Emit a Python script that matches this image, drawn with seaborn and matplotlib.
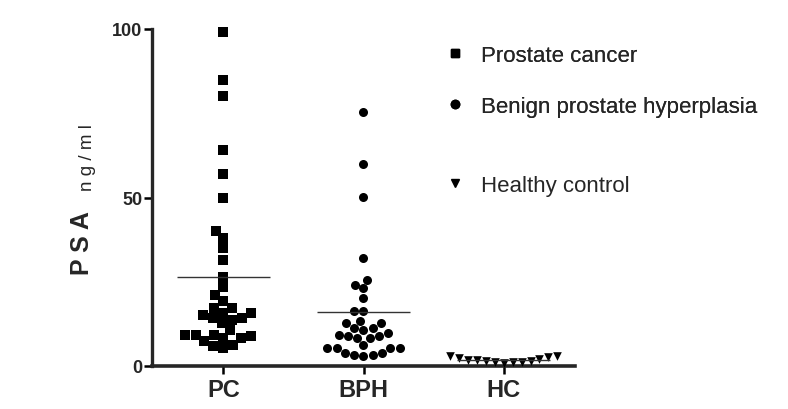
import matplotlib
matplotlib.use("Agg")
from matplotlib import pyplot as plt
from matplotlib.lines import Line2D
import seaborn as sns
import pandas as pd
import numpy as np

# values (PSA, ng/ml)
groups = ["PC", "BPH", "HC"]
labels = ["Prostate cancer", "Benign prostate hyperplasia", "Healthy control"]
markers = ["s", "o", "v"]
pc = [99, 85, 80, 64, 57, 50, 40, 38, 35, 31.5, 26.3, 23.3, 21, 19.2, 17.2, 17.2,
      15.7, 15.7, 15.2, 13.7, 14.2, 14.2, 12.7, 9.3, 8.3, 9.3, 9.3, 8.9, 10.7,
      8.3, 6.3, 5.3, 7.4, 6.0]
bph = [75.4, 60, 50.2, 32, 25.6, 24.1, 23.1, 20.2, 16.2, 16.2, 12.7, 11.2, 13.3,
       10.8, 11.2, 12.7, 9.3, 8.3, 8.3, 5.3, 5.3, 6.3, 5.3, 5.3, 3.8, 3.3, 3.0,
       3.8, 3.3, 8.9, 8.9, 9.8]
hc = [1.3, 2.9, 1.6, 1.0, 2.2, 1.9, 1.1, 2.5, 1.4, 3.1, 1.2, 2.6, 1.8]

sns.set_theme(style="ticks")
plt.rcParams["font.family"] = ["Liberation Sans", "DejaVu Sans"]

fig = plt.figure(figsize=(7.88, 4.10), dpi=100)
ax = fig.add_axes([152 / 788, 1 - 367 / 410, 423 / 788, 337 / 410])

sizes = [7.2, 6.5, 6.2]
for g, vals, m, s in zip(groups, [pc, bph, hc], markers, sizes):
    df = pd.DataFrame({"group": g, "psa": vals})
    sns.swarmplot(data=df, x="group", y="psa", order=groups, marker=m,
                  color="black", size=s, linewidth=0, ax=ax, clip_on=False,
                  warn_thresh=1)
    i = groups.index(g)
    ax.hlines(np.mean(vals), i - 0.33, i + 0.33, color="#333333", lw=1, zorder=5)

ax.set_xlim(-0.51, 2.51)
ax.set_ylim(0, 100)
ax.set_yticks([0, 50, 100])
ax.set_xlabel("")
ax.set_ylabel("")
sns.despine(ax=ax)
ax.spines["left"].set_linewidth(2.4)
ax.spines["bottom"].set_linewidth(2.6)
ax.tick_params(axis="both", width=1.8, length=6, color="black")
ax.tick_params(axis="y", labelsize=13, pad=1)
ax.tick_params(axis="x", labelsize=17, pad=3)
for t in ax.get_xticklabels() + ax.get_yticklabels():
    t.set_fontweight("bold")

ax.text(-0.165, 0.368, "P S A", transform=ax.transAxes, rotation=90,
        ha="center", va="center", fontsize=18, fontweight="bold")
ax.text(-0.153, 0.62, "n g / m l", transform=ax.transAxes, rotation=90,
        ha="center", va="center", fontsize=13.5)

handles = [Line2D([], [], ls="", marker=m, color="black", markersize=6)
           for m in markers]
leg1 = fig.legend(handles[:2], labels[:2], loc="upper left",
                  bbox_to_anchor=(437 / 788, 1 - 35 / 410), frameon=False,
                  fontsize=16, handlelength=0.6, handletextpad=0.9,
                  labelspacing=1.35, borderpad=0)
leg2 = fig.legend(handles[2:], labels[2:], loc="upper left",
                  bbox_to_anchor=(437 / 788, 1 - 165 / 410), frameon=False,
                  fontsize=16, handlelength=0.6, handletextpad=0.9, borderpad=0)
fig.add_artist(leg1)

fig.savefig("out.png", dpi=100)
